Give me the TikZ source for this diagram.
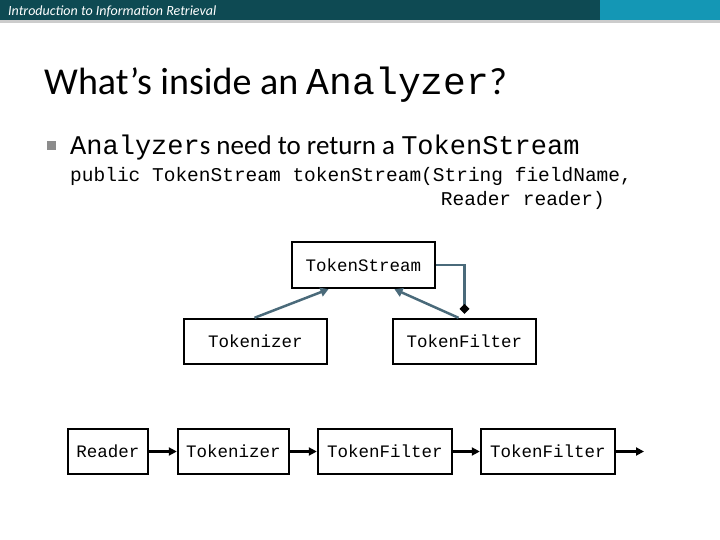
\documentclass[tikz,border=0pt]{standalone}
\usepackage{fontspec}
\setmainfont{Carlito}
\setmonofont{Liberation Mono}
\usetikzlibrary{arrows.meta,positioning}
\definecolor{bardark}{HTML}{0E4A53}
\definecolor{barlight}{HTML}{1497B5}
\definecolor{linkblue}{HTML}{4A6A7A}
\tikzset{class box/.style={rectangle,draw=black,line width=2.4pt,inner sep=0pt,font=\ttfamily\fontsize{17.5}{20}\selectfont},
         flow/.style={-{Triangle[length=8pt,width=8pt]},line width=2.8pt},
         inherit/.style={-{Triangle[length=8pt,width=9pt]},draw=linkblue,line width=2.5pt}
}
\begin{document}
\begin{tikzpicture}[x=1pt,y=-1pt]
\useasboundingbox (0,0) rectangle (720,540);
% header bar
\fill[bardark] (0,0) rectangle (600,20);
\fill[barlight] (600,0) rectangle (720,20);
\fill[black!20] (0,20) rectangle (720,23);
\node[anchor=west,white,font=\itshape\fontsize{14}{16}\selectfont,inner sep=0pt] (hdr) at (8,11) {Introduction to Information Retrieval};
% title and text
\node[anchor=base west,inner sep=0pt,font=\fontsize{38}{44}\selectfont] (title) at (44,95) {What’s inside an \texttt{Analyzer}?};
\fill[black!45] (47,141) rectangle (56,150);
\node[anchor=base west,inner sep=0pt,font=\fontsize{27}{32}\selectfont] (bullet) at (70,155) {\texttt{Analyzer}s need to return a \texttt{TokenStream}};
\node[anchor=base west,inner sep=0pt,font=\ttfamily\fontsize{19.5}{24}\selectfont] (sig1) at (70,182) {public TokenStream tokenStream(String fieldName,};
\node[anchor=base east,inner sep=0pt,font=\ttfamily\fontsize{19.5}{24}\selectfont] (sig2) at (605,206) {Reader reader)};
% class diagram
\node[class box,minimum width=143pt,minimum height=46pt] (ts) at (363.5,265) {TokenStream};
\node[class box,minimum width=143pt,minimum height=45pt] (tok) at (255.5,341.5) {Tokenizer};
\node[class box,minimum width=143pt,minimum height=45pt] (filt) at (464.5,341.5) {TokenFilter};
\draw[inherit] ([xshift=-1pt]tok.north) -- ([xshift=-35pt]ts.south);
\draw[inherit] ([xshift=-6pt]filt.north) -- ([xshift=31pt]ts.south);
\draw[linkblue,line width=2.5pt] (ts.east) -| ([yshift=10pt]filt.north);
\fill[black] ([yshift=14pt]filt.north) -- ++(5,5) -- ++(-5,5) -- ++(-5,-5) -- cycle;
% pipeline
\node[class box,minimum width=80pt,minimum height=45pt] (rd) at (108,451.5) {Reader};
\node[class box,minimum width=111pt,minimum height=45pt] (tk2) at (233.5,451.5) {Tokenizer};
\node[class box,minimum width=134pt,minimum height=45pt] (tf1) at (385,451.5) {TokenFilter};
\node[class box,minimum width=134pt,minimum height=45pt] (tf2) at (548,451.5) {TokenFilter};
\coordinate (out) at (644,451.5);
\draw[flow] (rd) -- (tk2);
\draw[flow] (tk2) -- (tf1);
\draw[flow] (tf1) -- (tf2);
\draw[flow] (tf2) -- (out);
\end{tikzpicture}
\end{document}
